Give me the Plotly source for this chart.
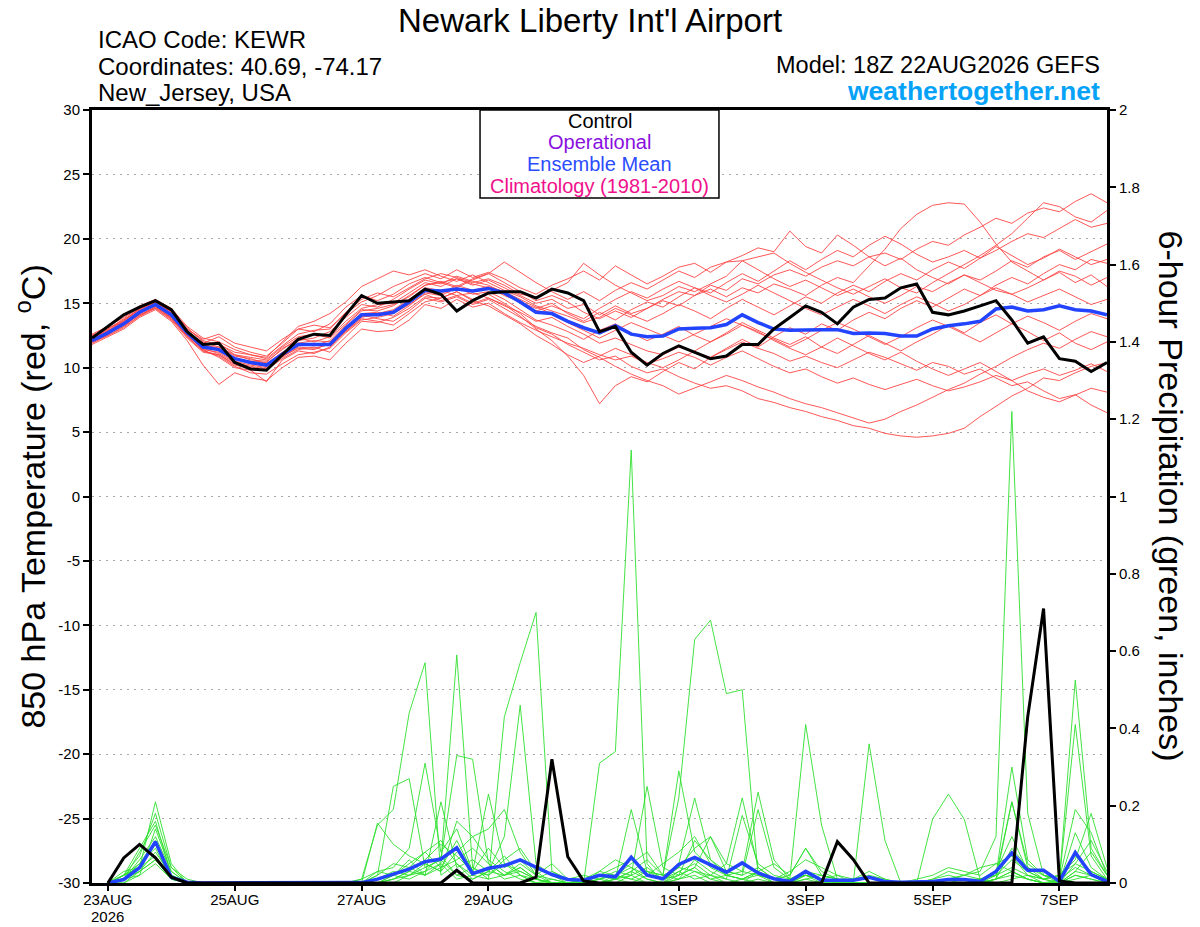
import pandas as pd
import plotly.graph_objects as go

# valid times of the 18Z 22AUG2026 GEFS run, every 6 hours
times = pd.date_range('2026-08-22 18:00', periods=65, freq='6h')
precip_times = times[1:]

tick_dates = ['2026-08-23', '2026-08-25', '2026-08-27', '2026-08-29',
              '2026-09-01', '2026-09-03', '2026-09-05', '2026-09-07']
tick_text = ['23AUG', '25AUG', '27AUG', '29AUG', '1SEP', '3SEP', '5SEP', '7SEP']
year_label = '2026'
temp_ticks = [30, 25, 20, 15, 10, 5, 0, -5, -10, -15, -20, -25, -30]
temp_tick_text = [str(t) for t in temp_ticks]
precip_ticks = [0, 0.2, 0.4, 0.6, 0.8, 1, 1.2, 1.4, 1.6, 1.8, 2]
precip_tick_text = ['0', '0.2', '0.4', '0.6', '0.8', '1', '1.2', '1.4', '1.6', '1.8', '2']

# 850 hPa temperature (C)
temp_control = [12.3, 13.2, 14.1, 14.7, 15.2, 14.5, 12.8, 11.8, 11.9, 10.4,
                9.9, 9.8, 11.0, 12.2, 12.6, 12.5, 14.1, 15.6, 15.0, 15.1,
                15.2, 16.1, 15.7, 14.4, 15.2, 15.8, 15.9, 15.9, 15.4, 16.1,
                15.8, 15.2, 12.8, 13.2, 11.2, 10.2, 11.1, 11.7, 11.2, 10.7,
                10.9, 11.8, 11.8, 13.0, 13.9, 14.8, 14.3, 13.4, 14.7, 15.3,
                15.4, 16.2, 16.5, 14.3, 14.1, 14.4, 14.8, 15.2, 13.7, 11.9,
                12.4, 10.7, 10.5, 9.7, 10.4]
temp_mean = [12.1, 12.7, 13.4, 14.3, 14.9, 14.1, 12.7, 11.6, 11.4, 10.7,
             10.4, 10.2, 11.05, 11.8, 11.8, 11.8, 13.05, 14.1, 14.1, 14.3,
             15.1, 16.0, 15.95, 16.1, 15.95, 16.15, 15.8, 15.1, 14.3, 14.2,
             13.6, 13.1, 12.7, 13.25, 12.6, 12.4, 12.45, 13.0, 13.05, 13.1,
             13.35, 14.1, 13.5, 13.0, 12.9, 12.95, 12.95, 12.95, 12.65, 12.7,
             12.65, 12.45, 12.45, 13.0, 13.25, 13.4, 13.6, 14.55, 14.7, 14.4,
             14.5, 14.8, 14.5, 14.4, 14.1]

t_m01 = [12.0, 12.6, 13.5, 14.4, 15.0, 14.3, 12.9, 11.8, 11.9, 11.0,
         10.6, 10.5, 11.4, 12.3, 12.0, 12.4, 13.6, 14.6, 14.9, 15.0,
         15.8, 16.6, 16.3, 16.9, 16.4, 16.8, 16.2, 15.6, 15.0, 15.3,
         14.6, 14.9, 14.1, 14.8, 14.2, 14.6, 15.3, 15.9, 15.6, 16.4,
         16.0, 16.9, 16.5, 17.2, 17.6, 17.1, 17.8, 18.3, 17.9, 18.6,
         18.9, 18.4, 19.2, 19.8, 19.5, 20.3, 20.9, 21.6, 21.2, 22.0,
         22.4, 22.1, 22.9, 23.5, 22.8]
t_m02 = [12.3, 12.9, 13.3, 14.1, 14.6, 13.7, 12.3, 11.2, 11.0, 10.2,
         9.9, 9.8, 10.7, 11.4, 11.6, 11.2, 12.4, 13.6, 13.5, 13.9,
         14.6, 15.5, 15.4, 15.9, 15.3, 15.7, 15.0, 14.2, 13.1, 12.6,
         11.8, 11.2, 10.6, 10.9, 10.1, 9.6, 9.9, 9.3, 8.8, 8.4,
         8.6, 8.2, 7.6, 7.3, 6.9, 6.6, 6.2, 5.9, 5.5, 5.3,
         4.9, 4.7, 4.6, 4.7, 4.9, 5.3, 6.2, 7.0, 7.8, 8.4,
         9.2, 9.0, 9.6, 10.1, 10.4]
t_m03 = [11.9, 12.5, 13.1, 14.0, 14.7, 13.9, 12.4, 11.3, 10.9, 10.1,
         9.6, 9.5, 10.3, 11.0, 11.2, 11.5, 12.7, 13.7, 13.9, 14.2,
         14.9, 15.7, 15.2, 15.6, 15.0, 15.4, 14.8, 14.3, 13.6, 13.9,
         13.2, 12.6, 11.9, 12.3, 11.8, 11.3, 11.0, 11.6, 11.2, 10.8,
         11.4, 12.0, 11.5, 11.1, 10.5, 10.9, 10.4, 10.0, 10.6, 11.2,
         10.8, 10.3, 9.8, 10.4, 10.1, 9.5, 9.9, 9.2, 8.6, 8.9,
         8.2, 7.6, 7.9, 7.1, 6.5]
t_m04 = [12.4, 13.0, 13.8, 14.7, 15.2, 14.5, 13.1, 12.0, 11.6, 11.0,
         10.8, 10.6, 11.6, 12.4, 12.6, 12.3, 13.4, 14.5, 14.4, 14.8,
         15.6, 16.4, 16.7, 16.3, 16.9, 17.3, 16.6, 15.9, 15.2, 15.6,
         15.1, 14.3, 13.8, 14.4, 13.9, 14.6, 15.2, 14.8, 15.6, 16.1,
         15.5, 16.2, 15.8, 16.5, 16.1, 15.6, 16.4, 17.0, 16.6, 17.9,
         19.2, 20.8, 21.9, 22.6, 22.8, 22.7, 21.3, 19.6, 18.2, 17.5,
         16.8, 17.4, 16.6, 17.2, 16.3]
t_m05 = [12.2, 12.8, 13.6, 14.5, 15.1, 14.2, 12.8, 11.9, 12.4, 11.6,
         11.2, 10.9, 11.9, 13.0, 13.3, 13.1, 14.2, 15.1, 15.6, 16.3,
         16.8, 17.3, 16.9, 17.6, 17.0, 17.4, 16.9, 16.2, 15.7, 16.4,
         16.9, 17.5, 16.8, 17.9, 17.2, 16.5, 17.1, 17.8, 18.1, 17.4,
         18.2, 18.7, 19.3, 19.0, 20.6, 19.4, 18.9, 20.3, 19.5, 18.6,
         17.9, 18.5, 17.6, 17.0, 16.5, 17.2, 16.6, 16.0, 15.7, 16.2,
         16.8, 17.5, 17.1, 16.4, 17.0]
t_m06 = [12.0, 12.5, 13.2, 14.2, 14.8, 13.8, 12.5, 11.5, 11.1, 10.4,
         10.1, 9.9, 10.8, 11.6, 11.5, 11.8, 12.8, 13.9, 14.2, 14.5,
         15.3, 16.2, 16.0, 15.6, 15.8, 15.4, 14.9, 14.0, 13.0, 12.1,
         10.9, 9.4, 7.2, 8.6, 9.3, 8.9, 9.7, 10.4, 9.9, 10.8,
         11.5, 12.2, 11.6, 12.4, 13.1, 12.6, 13.4, 12.9, 13.7, 14.3,
         13.8, 14.6, 15.2, 14.7, 15.4, 16.1, 15.6, 16.4, 17.0, 16.5,
         17.3, 18.0, 17.6, 18.4, 18.1]
t_m07 = [12.5, 13.1, 13.5, 14.2, 14.8, 14.2, 12.9, 11.7, 11.3, 10.8,
         10.3, 10.1, 10.9, 11.5, 11.4, 11.9, 13.2, 14.1, 13.8, 13.6,
         14.4, 15.4, 15.1, 15.5, 14.9, 15.3, 14.6, 13.9, 13.2, 12.7,
         12.3, 11.4, 10.8, 10.1, 9.5, 9.0, 8.6, 7.95, 8.4, 8.9,
         9.4, 9.0, 8.5, 8.1, 7.6, 7.2, 6.9, 6.5, 6.1, 5.7,
         6.0, 6.6, 7.1, 7.7, 8.3, 8.8, 9.5, 10.1, 10.8, 11.4,
         11.9, 11.5, 12.2, 12.8, 12.4]
t_m08 = [12.1, 12.7, 13.3, 14.3, 14.9, 14.0, 12.6, 11.4, 11.2, 10.5,
         10.2, 10.0, 11.0, 11.9, 11.7, 12.1, 13.3, 14.4, 14.6, 14.9,
         15.5, 16.4, 16.6, 16.9, 16.5, 16.2, 15.6, 15.1, 14.6, 15.0,
         14.2, 13.6, 14.3, 13.7, 14.5, 15.1, 14.7, 15.5, 16.2, 15.8,
         16.6, 17.3, 16.7, 17.5, 18.3, 17.6, 18.4, 19.1, 18.6, 19.5,
         20.2, 19.6, 18.8, 18.2, 18.6, 19.1, 18.5, 19.4, 18.7, 18.0,
         18.5, 19.2, 18.6, 18.0, 18.4]
t_m09 = [12.2, 12.8, 13.5, 14.3, 14.8, 14.0, 12.6, 11.6, 11.6, 10.9,
         10.7, 10.3, 11.2, 11.9, 12.1, 12.0, 13.1, 14.2, 14.3, 14.0,
         14.8, 15.8, 15.6, 16.2, 15.7, 15.9, 15.3, 14.5, 13.7, 13.3,
         12.8, 12.2, 12.9, 13.4, 12.7, 12.1, 12.6, 13.2, 12.5, 12.0,
         12.7, 13.5, 12.9, 12.3, 11.8, 12.4, 11.6, 11.1, 11.8, 12.5,
         11.9, 11.3, 12.0, 12.6, 13.3, 12.7, 13.5, 14.1, 13.4, 12.8,
         12.1, 12.7, 11.9, 11.4, 12.0]
t_m10 = [11.8, 12.4, 13.0, 13.9, 14.5, 13.6, 12.1, 10.2, 8.7, 9.6,
         9.2, 9.0, 10.0, 10.8, 10.9, 10.6, 11.9, 13.0, 12.8, 12.9,
         13.7, 14.9, 14.6, 15.3, 14.7, 15.0, 14.2, 13.5, 12.9, 12.4,
         11.9, 11.5, 11.0, 10.6, 10.9, 10.3, 10.7, 11.2, 10.8, 10.2,
         10.8, 11.3, 10.7, 10.1, 9.6, 9.9, 9.3, 8.8, 9.2, 8.7,
         8.3, 8.7, 9.1, 8.6, 8.2, 8.5, 8.9, 9.4, 9.0, 9.5,
         9.9, 9.4, 9.8, 10.3, 9.7]
t_m11 = [12.6, 13.2, 13.9, 14.8, 15.3, 14.6, 13.2, 12.3, 12.0, 11.4,
         11.0, 10.8, 12.0, 13.2, 13.6, 14.2, 15.1, 16.3, 16.9, 17.5,
         17.2, 17.6, 17.1, 16.7, 17.2, 16.6, 16.0, 15.5, 14.8, 14.4,
         14.0, 13.5, 13.9, 14.6, 14.1, 13.6, 14.2, 14.9, 14.4, 13.8,
         14.6, 15.3, 14.7, 14.1, 14.8, 15.5, 15.0, 15.8, 16.4, 15.9,
         16.7, 17.3, 16.8, 17.6, 18.2, 17.7, 18.5, 19.1, 19.8, 20.4,
         20.1, 20.8, 21.5, 20.9, 21.2]
t_m12 = [12.3, 12.9, 13.6, 14.6, 15.0, 14.4, 13.0, 12.2, 12.6, 11.9,
         11.6, 11.3, 12.2, 13.0, 12.8, 13.4, 14.7, 15.6, 15.2, 15.7,
         16.5, 17.0, 16.6, 16.2, 16.8, 17.3, 18.2, 17.4, 16.6, 15.9,
         15.3, 15.9, 15.2, 16.0, 16.6, 16.1, 16.8, 17.5, 17.0, 17.8,
         18.2, 18.3, 18.6, 18.9, 18.1, 17.4, 16.8, 16.2, 15.7, 16.3,
         16.9, 16.2, 15.8, 16.6, 17.3, 18.0, 18.7, 19.5, 20.4, 21.6,
         22.8, 22.5, 21.7, 21.3, 22.2]
t_m13 = [12.0, 12.6, 13.4, 14.1, 14.7, 13.9, 12.5, 11.4, 10.8, 10.0,
         9.8, 8.9, 10.6, 11.3, 11.1, 11.6, 12.8, 13.8, 13.6, 13.3,
         14.2, 15.1, 15.4, 15.9, 15.2, 14.8, 14.1, 13.4, 12.5, 11.8,
         11.0, 10.4, 10.9, 11.5, 11.0, 10.4, 10.0, 10.6, 11.3, 12.0,
         12.6, 13.3, 12.8, 12.1, 11.5, 11.0, 11.6, 12.3, 11.7, 11.1,
         10.6, 11.2, 10.5, 9.9, 9.4, 9.9, 10.4, 9.7, 9.0, 8.2,
         7.7, 7.35, 7.9, 8.4, 8.1]
t_m14 = [12.5, 13.0, 13.7, 14.5, 15.1, 14.4, 13.0, 12.1, 11.8, 11.2,
         11.0, 10.7, 11.7, 12.6, 12.9, 13.0, 14.3, 15.3, 15.8, 15.5,
         16.2, 16.9, 17.3, 17.0, 16.6, 16.9, 16.4, 15.7, 15.5, 16.0,
         16.6, 18.1, 17.2, 16.4, 15.8, 15.2, 15.6, 16.3, 15.9, 16.5,
         17.1, 18.3, 17.6, 16.9, 16.3, 16.8, 16.2, 15.6, 16.1, 15.5,
         15.0, 15.6, 16.3, 15.9, 16.6, 17.2, 16.8, 17.5, 18.3, 17.8,
         18.6, 19.1, 18.4, 19.0, 19.6]
t_m15 = [12.2, 12.7, 13.2, 14.0, 14.6, 13.8, 12.4, 11.3, 11.0, 10.3,
         10.0, 9.8, 10.9, 11.7, 11.9, 11.7, 12.9, 14.0, 14.1, 14.4,
         15.0, 15.9, 15.7, 16.4, 16.0, 16.3, 15.9, 15.3, 14.7, 14.2,
         13.5, 12.9, 12.3, 12.9, 13.5, 13.0, 12.5, 12.0, 12.6, 13.2,
         13.8, 13.3, 12.7, 12.2, 11.6, 12.2, 12.9, 13.5, 13.0, 12.4,
         11.8, 12.4, 13.1, 13.7, 13.2, 12.6, 12.0, 12.7, 13.4, 14.0,
         13.5, 12.9, 13.6, 14.2, 13.8]
t_m16 = [12.1, 12.8, 13.7, 14.6, 15.2, 14.3, 12.9, 11.8, 11.5, 10.7,
         10.5, 10.4, 11.5, 12.1, 12.3, 12.8, 13.9, 14.9, 14.7, 15.3,
         16.1, 16.8, 16.5, 17.1, 16.7, 16.4, 15.8, 15.2, 14.4, 14.8,
         14.3, 13.8, 14.6, 15.3, 15.9, 15.4, 16.1, 16.7, 16.2, 15.6,
         15.1, 15.7, 16.4, 15.8, 15.2, 14.6, 14.1, 14.7, 15.3, 14.8,
         14.2, 14.9, 15.5, 15.0, 14.4, 14.9, 15.6, 16.2, 15.7, 15.1,
         15.6, 16.1, 15.5, 14.9, 15.3]

# 6-hour precipitation (inches), from 00Z 23AUG
precip_control = [0, 0.065, 0.10, 0.065, 0.015, 0, 0, 0, 0, 0,
                  0, 0, 0, 0, 0, 0, 0, 0, 0, 0,
                  0, 0, 0.033, 0, 0, 0, 0, 0.015, 0.32, 0.068,
                  0.005, 0, 0, 0, 0, 0, 0, 0, 0, 0,
                  0, 0, 0, 0, 0, 0, 0.107, 0.061, 0, 0,
                  0, 0, 0, 0, 0, 0, 0, 0, 0.43, 0.71,
                  0.005, 0, 0, 0]
precip_mean = [0, 0.009, 0.04, 0.107, 0.015, 0.002, 0, 0, 0, 0,
               0, 0, 0, 0, 0, 0, 0.001, 0.010, 0.024, 0.036,
               0.055, 0.062, 0.091, 0.024, 0.038, 0.045, 0.060, 0.041, 0.022, 0.009,
               0.007, 0.020, 0.016, 0.067, 0.020, 0.011, 0.048, 0.066, 0.046, 0.028,
               0.052, 0.026, 0.011, 0.004, 0.030, 0.007, 0.007, 0.007, 0.015, 0.004,
               0.002, 0.002, 0.004, 0.009, 0.009, 0.004, 0.030, 0.078, 0.033, 0.033,
               0.004, 0.079, 0.022, 0.004]

p_m01 = [0, 0.02, 0.05, 0.09, 0.01, 0, 0, 0, 0, 0,
         0, 0, 0, 0, 0, 0, 0, 0, 0.02, 0.05,
         0.08, 0.04, 0.11, 0.03, 0.02, 0.05, 0.03, 0.01, 0, 0,
         0, 0.31, 0.34, 1.12, 0.05, 0, 0.02, 0.04, 0.01, 0,
         0, 0, 0, 0, 0.02, 0.01, 0, 0, 0, 0,
         0, 0, 0, 0, 0, 0.01, 0.02, 0.06, 0.03, 0.01,
         0, 0.03, 0.08, 0.02]
p_m02 = [0, 0.01, 0.08, 0.15, 0.04, 0, 0, 0, 0, 0,
         0, 0, 0, 0, 0, 0, 0, 0.01, 0.03, 0.02,
         0.04, 0.06, 0.02, 0.01, 0.03, 0.07, 0.02, 0, 0, 0,
         0, 0.01, 0.02, 0.04, 0.01, 0, 0.03, 0.05, 0.02, 0,
         0.01, 0.02, 0, 0, 0, 0, 0, 0, 0, 0,
         0, 0, 0, 0.01, 0.02, 0.03, 0.12, 1.22, 0.18, 0.02,
         0.01, 0.04, 0.02, 0]
p_m03 = [0, 0, 0.03, 0.06, 0.02, 0, 0, 0, 0, 0,
         0, 0, 0, 0, 0, 0, 0, 0, 0.01, 0.03,
         0.02, 0.05, 0.01, 0.02, 0.01, 0.43, 0.57, 0.70, 0.03, 0.01,
         0, 0, 0.02, 0.01, 0, 0, 0.01, 0.02, 0, 0,
         0, 0.03, 0.01, 0, 0.02, 0.01, 0, 0, 0, 0,
         0, 0, 0.01, 0.02, 0.01, 0, 0.01, 0.09, 0.04, 0.02,
         0, 0.05, 0.03, 0.01]
p_m04 = [0, 0.02, 0.04, 0.07, 0.01, 0, 0, 0, 0, 0,
         0, 0, 0, 0, 0, 0, 0.01, 0.15, 0.19, 0.44,
         0.57, 0.02, 0.05, 0.01, 0.03, 0.02, 0.04, 0.01, 0, 0,
         0, 0.02, 0.01, 0.03, 0.01, 0, 0.05, 0.22, 0.06, 0.02,
         0.01, 0, 0, 0.01, 0.03, 0.01, 0, 0, 0, 0,
         0, 0, 0, 0, 0, 0, 0.01, 0.03, 0.01, 0,
         0, 0.02, 0.01, 0]
p_m05 = [0, 0.01, 0.06, 0.12, 0.03, 0, 0, 0, 0, 0,
         0, 0, 0, 0, 0, 0, 0, 0, 0.02, 0.01,
         0.03, 0.05, 0.59, 0.04, 0.02, 0.06, 0.09, 0.03, 0, 0,
         0, 0.01, 0, 0.02, 0.04, 0.01, 0.03, 0.01, 0.02, 0.05,
         0.22, 0.04, 0.01, 0, 0.01, 0.02, 0.01, 0, 0, 0,
         0, 0, 0, 0, 0.01, 0.01, 0.02, 0.04, 0.02, 0.01,
         0.02, 0.07, 0.03, 0.01]
p_m06 = [0, 0, 0.02, 0.05, 0.01, 0, 0, 0, 0, 0,
         0, 0, 0, 0, 0, 0, 0, 0.02, 0.05, 0.04,
         0.08, 0.11, 0.05, 0.02, 0.04, 0.01, 0.02, 0, 0.01, 0,
         0.01, 0.03, 0.02, 0.05, 0.08, 0.02, 0.22, 0.63, 0.68, 0.49,
         0.50, 0.02, 0.01, 0, 0.01, 0, 0, 0, 0, 0,
         0, 0, 0, 0, 0, 0, 0.01, 0.02, 0.01, 0,
         0, 0.01, 0.02, 0]
p_m07 = [0, 0.01, 0.03, 0.08, 0.02, 0, 0, 0, 0, 0,
         0, 0, 0, 0, 0, 0, 0, 0, 0, 0.02,
         0.05, 0.03, 0.08, 0.12, 0.06, 0.03, 0.01, 0, 0, 0,
         0, 0, 0.01, 0, 0.02, 0.01, 0.04, 0.03, 0.01, 0.02,
         0.01, 0.03, 0, 0.01, 0.41, 0.15, 0.01, 0, 0.36, 0.11,
         0, 0, 0, 0, 0, 0, 0.01, 0.03, 0.01, 0,
         0, 0.02, 0.01, 0]
p_m08 = [0, 0.02, 0.04, 0.21, 0.05, 0, 0, 0, 0, 0,
         0, 0, 0, 0, 0, 0, 0, 0, 0.01, 0.02,
         0.03, 0.07, 0.02, 0.04, 0.01, 0.02, 0.05, 0.02, 0, 0,
         0, 0, 0.01, 0.02, 0, 0, 0.01, 0.03, 0.02, 0.01,
         0, 0.01, 0, 0, 0, 0, 0, 0, 0, 0,
         0, 0, 0.165, 0.23, 0.165, 0.01, 0, 0.01, 0.02, 0,
         0.01, 0.525, 0.09, 0.02]
p_m09 = [0, 0.01, 0.05, 0.11, 0.02, 0, 0, 0, 0, 0,
         0, 0, 0, 0, 0, 0, 0, 0.03, 0.02, 0.06,
         0.02, 0.21, 0.04, 0.06, 0.03, 0.12, 0.46, 0.05, 0.02, 0,
         0.01, 0.02, 0.04, 0.06, 0.03, 0.01, 0.02, 0.04, 0.12, 0.03,
         0.02, 0.19, 0.04, 0.01, 0.02, 0, 0, 0, 0, 0,
         0, 0, 0, 0, 0, 0, 0.01, 0.21, 0.05, 0.02,
         0.01, 0.19, 0.13, 0.02]
p_m10 = [0, 0.01, 0.02, 0.14, 0.03, 0, 0, 0, 0, 0,
         0, 0, 0, 0, 0, 0, 0, 0.02, 0.25, 0.27,
         0.04, 0.06, 0.33, 0.32, 0.05, 0.02, 0.04, 0.01, 0, 0,
         0, 0.01, 0.02, 0.01, 0.03, 0.02, 0.01, 0.06, 0.03, 0.01,
         0.175, 0.05, 0.02, 0.01, 0.03, 0.02, 0.01, 0, 0, 0,
         0, 0, 0, 0, 0, 0, 0.02, 0.30, 0.06, 0.02,
         0.01, 0.41, 0.07, 0.01]
p_m11 = [0, 0.02, 0.07, 0.18, 0.04, 0.01, 0, 0, 0, 0,
         0, 0, 0, 0, 0, 0, 0.01, 0.03, 0.04, 0.09,
         0.31, 0.08, 0.14, 0.03, 0.23, 0.05, 0.02, 0.01, 0.03, 0.01,
         0, 0.02, 0.01, 0.19, 0.03, 0.02, 0.29, 0.08, 0.04, 0.02,
         0.03, 0.235, 0.06, 0.01, 0.02, 0.01, 0.02, 0.01, 0.03, 0.01,
         0, 0, 0, 0.01, 0.02, 0.01, 0.02, 0.21, 0.04, 0.01,
         0.02, 0.05, 0.11, 0.03]
p_m12 = [0, 0.03, 0.04, 0.10, 0.02, 0, 0, 0, 0, 0,
         0, 0, 0, 0, 0, 0, 0, 0.155, 0.10, 0.07,
         0.05, 0.03, 0.16, 0.12, 0.14, 0.19, 0.08, 0.02, 0.05, 0.01,
         0.02, 0.01, 0.03, 0.02, 0.25, 0.04, 0.02, 0.11, 0.06, 0.03,
         0.02, 0.04, 0.01, 0.02, 0.09, 0.03, 0.01, 0, 0, 0,
         0, 0, 0, 0, 0, 0.01, 0.03, 0.12, 0.03, 0.01,
         0, 0.13, 0.04, 0.01]
p_m13 = [0, 0.01, 0.03, 0.06, 0.01, 0, 0, 0, 0, 0,
         0, 0, 0, 0, 0, 0, 0, 0, 0.01, 0.03,
         0.06, 0.10, 0.07, 0.03, 0.09, 0.04, 0.06, 0.02, 0.01, 0,
         0, 0.03, 0.06, 0.04, 0.02, 0.05, 0.08, 0.12, 0.05, 0.02,
         0.01, 0.03, 0.05, 0.02, 0.09, 0.02, 0.01, 0.01, 0.02, 0.01,
         0, 0.01, 0.02, 0.04, 0.03, 0.02, 0.05, 0.07, 0.02, 0.01,
         0.02, 0.06, 0.18, 0.04]
p_m14 = [0, 0.02, 0.09, 0.16, 0.02, 0, 0, 0, 0, 0,
         0, 0, 0, 0, 0, 0, 0, 0.01, 0.02, 0.04,
         0.02, 0.04, 0.06, 0.09, 0.05, 0.02, 0.03, 0.01, 0, 0,
         0, 0, 0.01, 0.03, 0.06, 0.02, 0.04, 0.09, 0.12, 0.05,
         0.03, 0.02, 0.01, 0.03, 0.06, 0.04, 0.02, 0, 0, 0,
         0, 0, 0.01, 0.03, 0.02, 0.04, 0.05, 0.03, 0.01, 0,
         0, 0.03, 0.02, 0.01]

temp_members = [t_m01, t_m02, t_m03, t_m04, t_m05, t_m06, t_m07, t_m08,
                t_m09, t_m10, t_m11, t_m12, t_m13, t_m14, t_m15, t_m16]
precip_members = [p_m01, p_m02, p_m03, p_m04, p_m05, p_m06, p_m07,
                  p_m08, p_m09, p_m10, p_m11, p_m12, p_m13, p_m14]

FONT = 'Liberation Sans, Arial, Helvetica, sans-serif'
RED = '#ff4444'
GREEN = '#2fe02f'
BLUE = '#2244ff'

fig = go.Figure()

for m in temp_members:
    fig.add_trace(go.Scatter(x=times, y=m, mode='lines',
                             line=dict(color=RED, width=0.9), hoverinfo='skip'))
fig.add_trace(go.Scatter(x=times, y=temp_mean, mode='lines',
                         line=dict(color=BLUE, width=3.5)))
fig.add_trace(go.Scatter(x=times, y=temp_control, mode='lines',
                         line=dict(color='black', width=3)))

for m in precip_members:
    fig.add_trace(go.Scatter(x=precip_times, y=m, mode='lines', yaxis='y2',
                             line=dict(color=GREEN, width=0.9), hoverinfo='skip'))
fig.add_trace(go.Scatter(x=precip_times, y=precip_mean, mode='lines', yaxis='y2',
                         line=dict(color=BLUE, width=3.5)))
fig.add_trace(go.Scatter(x=precip_times, y=precip_control, mode='lines', yaxis='y2',
                         line=dict(color='black', width=3)))

annotations = [
    dict(text="Newark Liberty Int'l Airport", x=0.4906, y=1.1423, xanchor='center',
         yanchor='top', font=dict(size=33)),
    dict(text='ICAO Code: KEWR', x=0.004, y=1.0906, xanchor='left', yanchor='middle',
         font=dict(size=24)),
    dict(text='Coordinates: 40.69, -74.17', x=0.004, y=1.0569, xanchor='left',
         yanchor='middle', font=dict(size=24)),
    dict(text='New_Jersey, USA', x=0.004, y=1.022, xanchor='left', yanchor='middle',
         font=dict(size=24)),
    dict(text='Model: 18Z 22AUG2026 GEFS', x=0.995, y=1.0582, xanchor='right',
         yanchor='middle', font=dict(size=23.5)),
    dict(text='<b>weathertogether.net</b>', x=0.995, y=1.0246, xanchor='right',
         yanchor='middle', font=dict(size=26.5, color='#06a2f7')),
    # legend
    dict(text='Control', x=0.5, y=0.986, xanchor='center', yanchor='middle',
         font=dict(size=20, color='black')),
    dict(text='Operational', x=0.5, y=0.958, xanchor='center', yanchor='middle',
         font=dict(size=20, color='#8a10e0')),
    dict(text='Ensemble Mean', x=0.5, y=0.930, xanchor='center', yanchor='middle',
         font=dict(size=20, color='#2b4cff')),
    dict(text='Climatology (1981-2010)', x=0.5, y=0.9017, xanchor='center',
         yanchor='middle', font=dict(size=20, color='#f0108c')),
    # axis titles
    dict(text='850 hPa Temperature (red, <sup>o</sup>C)', x=-0.061, y=0.500,
         xanchor='center', yanchor='middle', textangle=-90, font=dict(size=34)),
    dict(text='6-hour Precipitation (green, inches)', x=1.064, y=0.500,
         xanchor='center', yanchor='middle', textangle=90, font=dict(size=34)),
]
for a in annotations:
    a.update(xref='paper', yref='paper', showarrow=False)
# year under the first date label
annotations.append(dict(text=year_label, x=tick_dates[0], xref='x', y=-0.0427,
                        yref='paper', xanchor='center', yanchor='middle',
                        showarrow=False, font=dict(size=15)))

fig.update_layout(
    width=1200, height=927, autosize=False,
    margin=dict(l=92, r=93, t=110, b=44),
    paper_bgcolor='white', plot_bgcolor='white',
    showlegend=False,
    font=dict(family=FONT, color='black', size=15),
    annotations=annotations,
    shapes=[dict(type='rect', xref='paper', yref='paper', x0=0.3823, x1=0.6177,
                 y0=0.886, y1=1.0, line=dict(color='black', width=1.5),
                 fillcolor='white', layer='above')],
    xaxis=dict(range=[times[0], times[-1]], tickvals=tick_dates, ticktext=tick_text,
               ticks='outside', ticklen=5, tickwidth=1.5, tickcolor='black',
               ticklabelstandoff=-4,
               showgrid=False, zeroline=False, showline=True, linecolor='black',
               linewidth=3, mirror=True, tickfont=dict(size=15), automargin=False),
    yaxis=dict(range=[-30, 30], tickvals=temp_ticks, ticktext=temp_tick_text,
               ticks='outside', ticklen=6, tickwidth=1.5, tickcolor='black',
               showgrid=True, gridcolor='#a8a8a8', griddash='2px,5px', gridwidth=1,
               zeroline=False, showline=True, linecolor='black', linewidth=3,
               mirror=True, tickfont=dict(size=15), automargin=False),
    yaxis2=dict(range=[0, 2], overlaying='y', side='right', tickvals=precip_ticks,
                ticktext=precip_tick_text, ticks='outside', ticklen=6, tickwidth=1.5,
                tickcolor='black', showgrid=False, zeroline=False, showline=True,
                linecolor='black', linewidth=3, tickfont=dict(size=15),
                automargin=False),
)

# drop the browser's default 8px page margin so the figure fills the window
fig.write_html('out.html', config={'displayModeBar': False},
               post_script="document.body.style.margin = '0';")
